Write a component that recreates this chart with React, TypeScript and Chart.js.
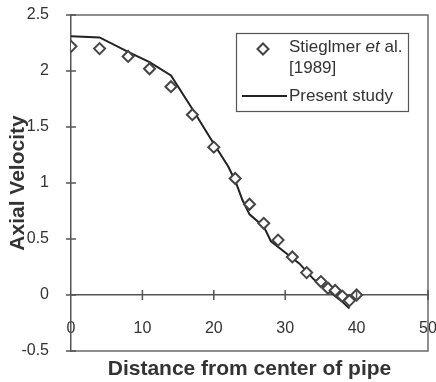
import React, { useEffect, useRef } from "react";
import { Chart, registerables } from "chart.js";

Chart.register(...registerables);

const FAMILY = '"Liberation Sans", Arial, Helvetica, sans-serif';

// Stieglmer et al. [1989] experimental points
const expX = [0, 4, 8, 11, 14, 17, 20, 23, 25, 27, 29, 31, 33, 35, 36, 37, 38, 39, 40];
const expY = [2.22, 2.2, 2.13, 2.02, 1.86, 1.61, 1.32, 1.04, 0.81, 0.64, 0.49, 0.34, 0.2, 0.12, 0.06, 0.04, -0.01, -0.05, 0.0];

// Present study curve
const simX = [0, 4, 8, 11, 14, 17, 20, 22, 23, 24, 25, 27, 28, 30, 32, 34, 36, 38, 39];
const simY = [2.31, 2.3, 2.17, 2.08, 1.96, 1.66, 1.35, 1.15, 1.02, 0.85, 0.72, 0.61, 0.48, 0.38, 0.28, 0.14, 0.04, -0.06, -0.12];

const xTickValues = [0, 10, 20, 30, 40, 50];
const xTickLabels = ["0", "10", "20", "30", "40", "50"];
const yTickValues = [-0.5, 0, 0.5, 1, 1.5, 2, 2.5];
const yTickLabels = ["-0.5", "0", "0.5", "1", "1.5", "2", "2.5"];

const xTitle = "Distance from center of pipe";
const yTitle = "Axial Velocity";
const expLabelParts = ["Stieglmer ", "et", " al."];
const expLabelLine2 = "[1989]";
const simLabel = "Present study";

const decor = {
  id: "decor",
  afterDraw(chart: any) {
    const { ctx, chartArea: a, scales } = chart;
    const xs = scales.x;
    const ys = scales.y;
    ctx.save();
    // frame (top, right, bottom)
    ctx.strokeStyle = "#6a6a6a";
    ctx.lineWidth = 1.5;
    ctx.beginPath();
    ctx.moveTo(a.left, a.top);
    ctx.lineTo(a.right, a.top);
    ctx.lineTo(a.right, a.bottom);
    ctx.lineTo(a.left, a.bottom);
    ctx.stroke();
    // crossing tick marks
    ctx.strokeStyle = "#555";
    ctx.lineWidth = 1.5;
    ctx.beginPath();
    yTickValues.forEach((v) => {
      const py = ys.getPixelForValue(v);
      ctx.moveTo(a.left - 5, py);
      ctx.lineTo(a.left + 5, py);
    });
    const y0 = ys.getPixelForValue(0);
    xTickValues.forEach((v) => {
      const px = xs.getPixelForValue(v);
      if (v === 0) return;
      ctx.moveTo(px, y0 - 5);
      ctx.lineTo(px, y0 + 5);
    });
    ctx.stroke();

    // legend
    const lx = a.right - 192;
    const ly = a.top + 18;
    const lw = 172;
    const lh = 78;
    ctx.fillStyle = "#fff";
    ctx.fillRect(lx, ly, lw, lh);
    ctx.strokeStyle = "#555";
    ctx.lineWidth = 1.2;
    ctx.strokeRect(lx + 0.5, ly + 0.5, lw, lh);

    const tx = lx + 53;
    const r1 = ly + 14;
    const r2 = ly + 35;
    const r3 = ly + 63;
    // diamond
    const dx = lx + 27;
    const dy = r1 + 2;
    ctx.beginPath();
    ctx.moveTo(dx - 5.5, dy);
    ctx.lineTo(dx, dy - 5.5);
    ctx.lineTo(dx + 5.5, dy);
    ctx.lineTo(dx, dy + 5.5);
    ctx.closePath();
    ctx.fillStyle = "#fff";
    ctx.fill();
    ctx.strokeStyle = "#444";
    ctx.lineWidth = 2;
    ctx.stroke();
    // line sample
    ctx.beginPath();
    ctx.moveTo(lx + 6, r3);
    ctx.lineTo(lx + 51, r3);
    ctx.strokeStyle = "#222";
    ctx.lineWidth = 2;
    ctx.stroke();

    ctx.fillStyle = "#333";
    ctx.textBaseline = "middle";
    ctx.textAlign = "left";
    let cx = tx;
    const normal = `17px ${FAMILY}`;
    const italic = `italic 17px ${FAMILY}`;
    ctx.font = normal;
    ctx.fillText(expLabelParts[0], cx, r1);
    cx += ctx.measureText(expLabelParts[0]).width;
    ctx.font = italic;
    ctx.fillText(expLabelParts[1], cx, r1);
    cx += ctx.measureText(expLabelParts[1]).width;
    ctx.font = normal;
    ctx.fillText(expLabelParts[2], cx, r1);
    ctx.fillText(expLabelLine2, tx, r2);
    ctx.fillText(simLabel, tx, r3);
    ctx.restore();
  },
};

export default function App() {
  const ref = useRef<HTMLCanvasElement | null>(null);

  useEffect(() => {
    document.body.style.margin = "0";
    const canvas = ref.current;
    if (!canvas) return;
    const chart = new Chart(canvas, {
      type: "scatter",
      data: {
        datasets: [
          {
            label: "Stieglmer et al. [1989]",
            data: expX.map((x, i) => ({ x, y: expY[i] })),
            pointStyle: "rectRot",
            pointRadius: 5.5,
            pointBorderWidth: 2,
            pointBorderColor: "#444",
            pointBackgroundColor: "#fff",
            showLine: false,
          },
          {
            label: "Present study",
            data: simX.map((x, i) => ({ x, y: simY[i] })),
            showLine: true,
            borderColor: "#222",
            borderWidth: 2,
            pointRadius: 0,
            fill: false,
            tension: 0,
          },
        ],
      },
      options: {
        responsive: false,
        animation: false,
        layout: { padding: { left: 0, top: 15, right: 8, bottom: 0 } },
        plugins: { legend: { display: false }, tooltip: { enabled: false } },
        scales: {
          x: {
            type: "linear",
            min: 0,
            max: 50,
            position: { y: 0 } as any,
            grid: { display: false },
            border: { display: true, color: "#555", width: 1.5 },
            afterBuildTicks: (s: any) => {
              s.ticks = xTickValues.map((v) => ({ value: v }));
            },
            afterFit: (s: any) => {
              s.paddingLeft = 0;
              s.paddingRight = 0;
            },
            ticks: {
              autoSkip: false,
              maxRotation: 0,
              padding: 16,
              color: "#333",
              font: { family: FAMILY, size: 16 },
              callback: (v: any) => xTickLabels[xTickValues.indexOf(Number(v))],
            },
          },
          x2: {
            type: "linear",
            position: "bottom",
            min: 0,
            max: 50,
            grid: { display: false },
            border: { display: false },
            ticks: { display: false },
            title: {
              display: true,
              text: xTitle,
              color: "#333",
              padding: 0,
              font: { family: FAMILY, size: 21, weight: "bold" },
            },
            afterFit: (s: any) => {
              s.height = 31;
              s.paddingLeft = 0;
              s.paddingRight = 0;
            },
          },
          y: {
            type: "linear",
            min: -0.5,
            max: 2.5,
            position: "left",
            grid: { display: false },
            border: { display: true, color: "#555", width: 1.5 },
            afterBuildTicks: (s: any) => {
              s.ticks = yTickValues.map((v) => ({ value: v }));
            },
            ticks: {
              autoSkip: false,
              padding: 14,
              color: "#333",
              font: { family: FAMILY, size: 16 },
              callback: (v: any) => yTickLabels[yTickValues.indexOf(Number(v))],
            },
            title: {
              display: true,
              text: yTitle,
              color: "#333",
              padding: { top: 6, bottom: 0 },
              font: { family: FAMILY, size: 21, weight: "bold" },
            },
            afterFit: (s: any) => {
              s.width = 71;
              s.paddingTop = 0;
              s.paddingBottom = 0;
            },
          },
        },
      } as any,
      plugins: [decor],
    });
    return () => chart.destroy();
  }, []);

  return (
    <div style={{ width: 436, height: 382, position: "relative" }}>
      <canvas ref={ref} width={436} height={382} style={{ display: "block" }} />
    </div>
  );
}
